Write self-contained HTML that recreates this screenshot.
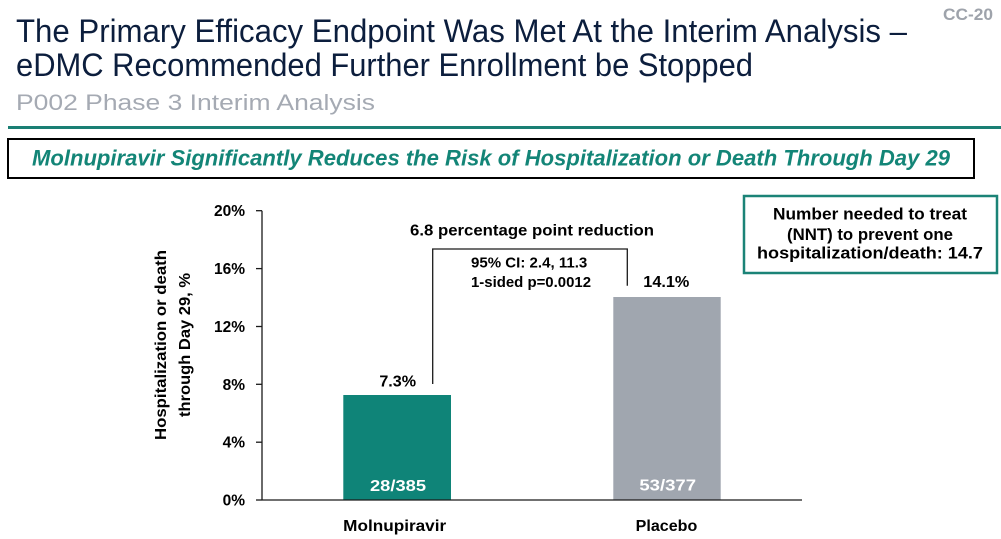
<!DOCTYPE html>
<html>
<head>
<meta charset="utf-8">
<style>
  html, body { margin: 0; padding: 0; background: #ffffff; }
  body { width: 1001px; height: 539px; overflow: hidden; }
  svg { display: block; }
  text { font-family: "Liberation Sans", Arial, sans-serif; }
</style>
</head>
<body>
<svg width="1001" height="539" viewBox="0 0 1001 539" xmlns="http://www.w3.org/2000/svg">
  <rect x="0" y="0" width="1001" height="539" fill="#ffffff"/>

  <!-- Header -->
  <text x="943" y="20" font-size="17" font-weight="bold" fill="#9ea3ab" textLength="50" lengthAdjust="spacingAndGlyphs">CC-20</text>
  <text x="16" y="42" font-size="32" fill="#0c1e3d" textLength="891" lengthAdjust="spacingAndGlyphs">The Primary Efficacy Endpoint Was Met At the Interim Analysis –</text>
  <text x="16" y="76" font-size="32" fill="#0c1e3d" textLength="737" lengthAdjust="spacingAndGlyphs">eDMC Recommended Further Enrollment be Stopped</text>
  <text x="16" y="110" font-size="22" fill="#a5aab3" textLength="359" lengthAdjust="spacingAndGlyphs">P002 Phase 3 Interim Analysis</text>

  <!-- Teal rule -->
  <rect x="8" y="126" width="993" height="3" fill="#1a7f74"/>

  <!-- Banner -->
  <rect x="8" y="139" width="966" height="39" fill="#ffffff" stroke="#000000" stroke-width="2"/>
  <text x="32" y="165.5" font-size="22" font-weight="bold" font-style="italic" fill="#138577" textLength="918" lengthAdjust="spacingAndGlyphs">Molnupiravir Significantly Reduces the Risk of Hospitalization or Death Through Day 29</text>

  <!-- Y axis title -->
  <text transform="translate(166,345) rotate(-90)" x="0" y="0" text-anchor="middle" font-size="15.5" font-weight="bold" fill="#000000" textLength="190" lengthAdjust="spacingAndGlyphs">Hospitalization or death</text>
  <text transform="translate(190,345) rotate(-90)" x="0" y="0" text-anchor="middle" font-size="15.5" font-weight="bold" fill="#000000" textLength="144" lengthAdjust="spacingAndGlyphs">through Day 29, %</text>

  <!-- Bars -->
  <rect x="343.3" y="395" width="107.7" height="105" fill="#0f8478"/>
  <rect x="613.3" y="297" width="107.4" height="203" fill="#a0a6af"/>

  <!-- Axes -->
  <line x1="262" y1="210.7" x2="262" y2="500" stroke="#1a1a1a" stroke-width="1.3"/>
  <line x1="262" y1="500" x2="802" y2="500" stroke="#1a1a1a" stroke-width="1.3"/>
  <g stroke="#1a1a1a" stroke-width="1.3">
    <line x1="256" y1="500" x2="262" y2="500"/>
    <line x1="256" y1="442.2" x2="262" y2="442.2"/>
    <line x1="256" y1="384.3" x2="262" y2="384.3"/>
    <line x1="256" y1="326.5" x2="262" y2="326.5"/>
    <line x1="256" y1="268.6" x2="262" y2="268.6"/>
    <line x1="256" y1="210.7" x2="262" y2="210.7"/>
  </g>

  <!-- Tick labels -->
  <g font-size="15.5" font-weight="bold" fill="#000000" text-anchor="end">
    <text x="245" y="505.5">0%</text>
    <text x="245" y="447.7">4%</text>
    <text x="245" y="389.8">8%</text>
    <text x="245" y="332">12%</text>
    <text x="245" y="274.1">16%</text>
    <text x="245" y="216.2">20%</text>
  </g>

  <!-- Bar labels -->
  <text x="397.7" y="386.5" text-anchor="middle" font-size="16" font-weight="bold" fill="#000000" textLength="36.7" lengthAdjust="spacingAndGlyphs">7.3%</text>
  <text x="666.3" y="287" text-anchor="middle" font-size="16" font-weight="bold" fill="#000000" textLength="46" lengthAdjust="spacingAndGlyphs">14.1%</text>
  <text x="398" y="491" text-anchor="middle" font-size="16" font-weight="bold" fill="#ffffff" textLength="56" lengthAdjust="spacingAndGlyphs">28/385</text>
  <text x="667.7" y="490.5" text-anchor="middle" font-size="16" font-weight="bold" fill="#ffffff" textLength="56.7" lengthAdjust="spacingAndGlyphs">53/377</text>

  <!-- Category labels -->
  <text x="394.7" y="531" text-anchor="middle" font-size="16" font-weight="bold" fill="#000000" textLength="103" lengthAdjust="spacingAndGlyphs">Molnupiravir</text>
  <text x="666.5" y="531" text-anchor="middle" font-size="16" font-weight="bold" fill="#000000" textLength="61.6" lengthAdjust="spacingAndGlyphs">Placebo</text>

  <!-- Bracket -->
  <polyline points="432.7,384 432.7,249 627.3,249 627.3,285.7" fill="none" stroke="#1a1a1a" stroke-width="1.3"/>
  <text x="532" y="235.7" text-anchor="middle" font-size="16" font-weight="bold" fill="#000000" textLength="244" lengthAdjust="spacingAndGlyphs">6.8 percentage point reduction</text>
  <text x="471" y="267.3" font-size="15" font-weight="bold" fill="#000000" textLength="116.3" lengthAdjust="spacingAndGlyphs">95% CI: 2.4, 11.3</text>
  <text x="471" y="287" font-size="15" font-weight="bold" fill="#000000" textLength="120" lengthAdjust="spacingAndGlyphs">1-sided p=0.0012</text>

  <!-- NNT box -->
  <rect x="744" y="196" width="253" height="77" fill="#ffffff" stroke="#1b8377" stroke-width="2.5"/>
  <g font-size="16.5" font-weight="bold" fill="#000000" text-anchor="middle">
    <text x="870" y="219.5" textLength="194" lengthAdjust="spacingAndGlyphs">Number needed to treat</text>
    <text x="870" y="240" textLength="166" lengthAdjust="spacingAndGlyphs">(NNT) to prevent one</text>
    <text x="870" y="258.5" textLength="226" lengthAdjust="spacingAndGlyphs">hospitalization/death: 14.7</text>
  </g>
</svg>
</body>
</html>
